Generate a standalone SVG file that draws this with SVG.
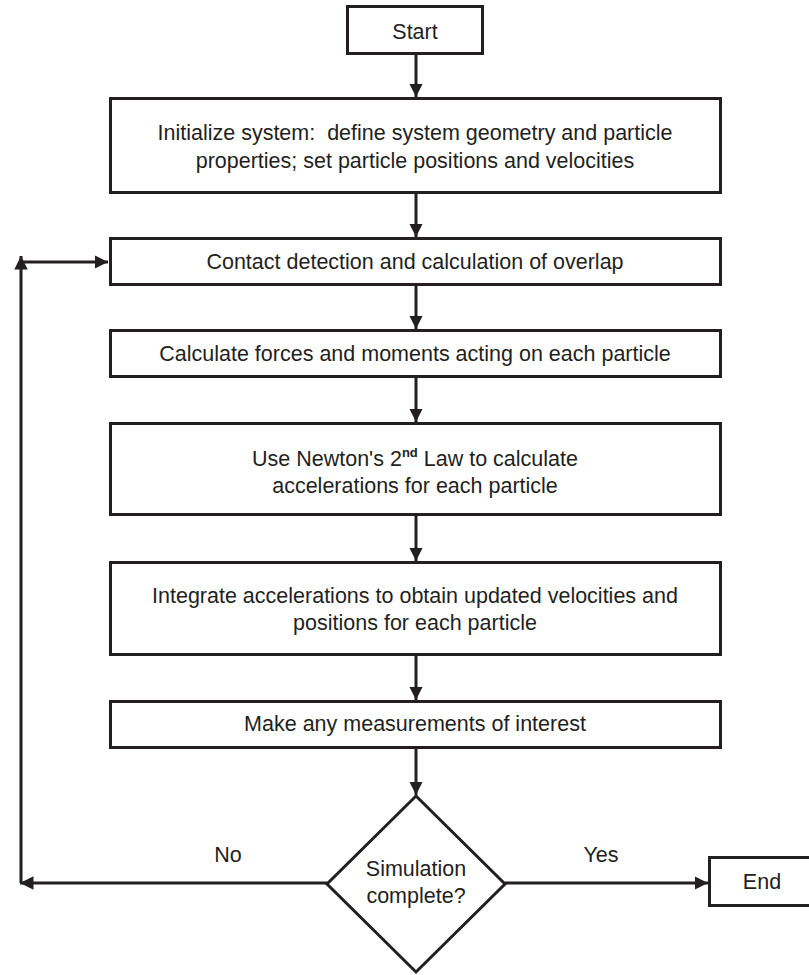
<svg xmlns="http://www.w3.org/2000/svg" width="809" height="975" viewBox="0 0 809 975">
<defs>
<style>
.box{fill:#fff;stroke:#231f20;stroke-width:3}
.ln{fill:none;stroke:#231f20;stroke-width:3}
.t{font-family:"Liberation Sans",Arial,sans-serif;font-size:21.5px;fill:#231f20;text-anchor:middle;white-space:pre}
</style>
<marker id="ah" viewBox="0 0 10 10" refX="10" refY="5" markerWidth="4.5" markerHeight="4.5" markerUnits="strokeWidth" orient="auto">
<path d="M0,0 L10,5 L0,10 z" fill="#231f20"/>
</marker>
</defs>
<rect width="809" height="975" fill="#fff"/>
<g id="connectors">
<line class="ln" x1="416" y1="54" x2="416" y2="97" marker-end="url(#ah)"/>
<line class="ln" x1="416" y1="193" x2="416" y2="237" marker-end="url(#ah)"/>
<line class="ln" x1="416" y1="285" x2="416" y2="329" marker-end="url(#ah)"/>
<line class="ln" x1="416" y1="377" x2="416" y2="422" marker-end="url(#ah)"/>
<line class="ln" x1="416" y1="515" x2="416" y2="561" marker-end="url(#ah)"/>
<line class="ln" x1="416" y1="655" x2="416" y2="700" marker-end="url(#ah)"/>
<line class="ln" x1="416" y1="748" x2="416" y2="795" marker-end="url(#ah)"/>
<line class="ln" x1="327" y1="883" x2="20" y2="883" marker-end="url(#ah)"/>
<line class="ln" x1="21" y1="883" x2="21" y2="256" marker-end="url(#ah)"/>
<line class="ln" x1="20" y1="262" x2="108" y2="262" marker-end="url(#ah)"/>
<line class="ln" x1="505" y1="883" x2="708" y2="883" marker-end="url(#ah)"/>
</g>
<g id="start">
<rect class="box" x="347.5" y="6.5" width="135" height="47"/>
<text class="t" x="415" y="39">Start</text>
</g>
<g id="init">
<rect class="box" x="110.5" y="98.5" width="610" height="94"/>
<text class="t" x="415" y="140" xml:space="preserve">Initialize system:  define system geometry and particle</text>
<text class="t" x="415" y="168">properties; set particle positions and velocities</text>
</g>
<g id="contact">
<rect class="box" x="110.5" y="238.5" width="610" height="46"/>
<text class="t" x="415" y="269">Contact detection and calculation of overlap</text>
</g>
<g id="forces">
<rect class="box" x="110.5" y="330.5" width="610" height="46"/>
<text class="t" x="415" y="361">Calculate forces and moments acting on each particle</text>
</g>
<g id="newton">
<rect class="box" x="110.5" y="423.5" width="610" height="91"/>
<text class="t" x="415" y="466">Use Newton's 2<tspan font-size="13" font-weight="bold" dy="-9">nd</tspan><tspan dy="9"> Law to calculate</tspan></text>
<text class="t" x="415" y="493">accelerations for each particle</text>
</g>
<g id="integrate">
<rect class="box" x="110.5" y="562.5" width="610" height="92"/>
<text class="t" x="415" y="603">Integrate accelerations to obtain updated velocities and</text>
<text class="t" x="415" y="630">positions for each particle</text>
</g>
<g id="measure">
<rect class="box" x="110.5" y="701.5" width="610" height="46"/>
<text class="t" x="415" y="731">Make any measurements of interest</text>
</g>
<g id="decision">
<polygon class="box" points="416,796 505,884 416,972 327,884"/>
<text class="t" x="416" y="876">Simulation</text>
<text class="t" x="416" y="903">complete?</text>
</g>
<g id="labels">
<text class="t" x="228" y="862">No</text>
<text class="t" x="601" y="862">Yes</text>
</g>
<g id="end">
<rect class="box" x="709.5" y="857.5" width="110" height="48"/>
<text class="t" x="762" y="889">End</text>
</g>
</svg>
